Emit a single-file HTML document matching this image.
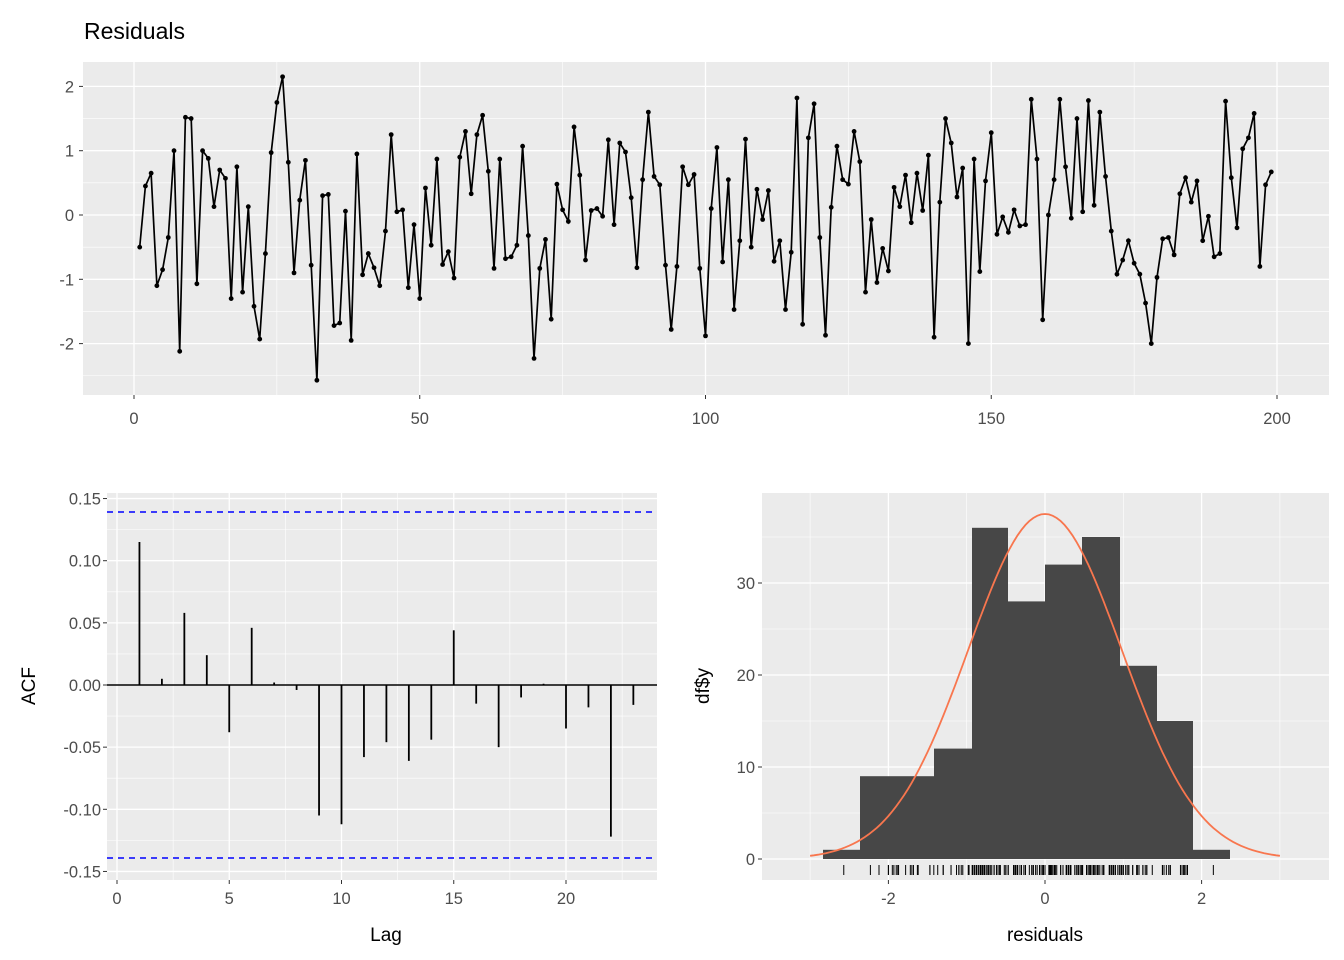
<!DOCTYPE html>
<html><head><meta charset="utf-8"><style>
body{margin:0;background:#fff}
svg{display:block;font-family:"Liberation Sans",sans-serif}
</style></head><body>
<svg id="s" width="1344" height="960" xmlns="http://www.w3.org/2000/svg">
<rect width="1344" height="960" fill="#fff"/>
<text x="84" y="39" font-size="23" fill="#000">Residuals</text>
<g id="g"></g>
</svg>
<script>
const NS="http://www.w3.org/2000/svg";const g=document.getElementById('g');
function el(t,a,txt){const e=document.createElementNS(NS,t);for(const k in a)e.setAttribute(k,a[k]);if(txt!==undefined)e.textContent=txt;g.appendChild(e);return e;}
const tc="#4d4d4d",fs=16.5;
const X0=83,X1=1329,Y0=62,Y1=395;
el('rect',{x:X0,y:Y0,width:X1-X0,height:Y1-Y0,fill:'#ebebeb'});
const tx=v=>134+v*5.715, ty=v=>215-v*64.3;
for(let v=25;v<=175;v+=50)el('line',{x1:tx(v),x2:tx(v),y1:Y0,y2:Y1,stroke:'#fff','stroke-width':0.6});
for(let v=-2.5;v<=2;v+=1)el('line',{x1:X0,x2:X1,y1:ty(v),y2:ty(v),stroke:'#fff','stroke-width':0.6});
for(let v=0;v<=200;v+=50){el('line',{x1:tx(v),x2:tx(v),y1:Y0,y2:Y1,stroke:'#fff','stroke-width':1.3});el('text',{x:tx(v),y:424,'font-size':fs,fill:tc,'text-anchor':'middle'},v);el('line',{x1:tx(v),x2:tx(v),y1:Y1,y2:Y1+4,stroke:'#333'});}
for(let v=-2;v<=2;v++){el('line',{x1:X0,x2:X1,y1:ty(v),y2:ty(v),stroke:'#fff','stroke-width':1.3});el('text',{x:74,y:ty(v)+6,'font-size':fs,fill:tc,'text-anchor':'end'},v);el('line',{x1:X0-4,x2:X0,y1:ty(v),y2:ty(v),stroke:'#333'});}
const r=[-0.5,0.45,0.65,-1.1,-0.85,-0.35,1.0,-2.12,1.52,1.5,-1.07,1.0,0.88,0.13,0.7,0.57,-1.3,0.75,-1.2,0.13,-1.42,-1.93,-0.6,0.97,1.75,2.15,0.82,-0.9,0.23,0.85,-0.78,-2.57,0.3,0.32,-1.72,-1.68,0.06,-1.95,0.95,-0.93,-0.6,-0.82,-1.1,-0.25,1.25,0.05,0.08,-1.13,-0.15,-1.3,0.42,-0.47,0.87,-0.77,-0.57,-0.98,0.9,1.3,0.33,1.25,1.55,0.68,-0.83,0.87,-0.68,-0.65,-0.47,1.07,-0.32,-2.23,-0.83,-0.38,-1.62,0.48,0.08,-0.1,1.37,0.62,-0.7,0.07,0.1,-0.02,1.17,-0.15,1.12,0.98,0.27,-0.82,0.55,1.6,0.6,0.47,-0.78,-1.78,-0.8,0.75,0.47,0.63,-0.83,-1.88,0.1,1.05,-0.73,0.55,-1.47,-0.4,1.18,-0.5,0.4,-0.07,0.38,-0.72,-0.4,-1.47,-0.58,1.82,-1.7,1.2,1.73,-0.35,-1.87,0.12,1.07,0.55,0.48,1.3,0.83,-1.2,-0.07,-1.05,-0.52,-0.87,0.43,0.13,0.62,-0.12,0.65,0.07,0.93,-1.9,0.2,1.5,1.12,0.28,0.73,-2.0,0.87,-0.88,0.53,1.28,-0.3,-0.03,-0.27,0.08,-0.17,-0.15,1.8,0.87,-1.63,0.0,0.55,1.8,0.75,-0.05,1.5,0.05,1.78,0.15,1.6,0.6,-0.25,-0.92,-0.7,-0.4,-0.75,-0.92,-1.37,-2.0,-0.97,-0.37,-0.35,-0.62,0.33,0.58,0.2,0.53,-0.4,-0.02,-0.65,-0.6,1.77,0.58,-0.2,1.03,1.2,1.58,-0.8,0.47,0.67];
const n=r.length, sc=198/(n-1);
let d='';r.forEach((v,i)=>{const x=tx(1+i*sc),y=ty(v);d+=(i?'L':'M')+x.toFixed(1)+','+y.toFixed(1);});
el('path',{d:d,fill:'none',stroke:'#000','stroke-width':1.7});
r.forEach((v,i)=>el('circle',{cx:tx(1+i*sc),cy:ty(v),r:2.4,fill:'#000'}));
const A0=107,A1=657,B0=493,B1=880;
el('rect',{x:A0,y:B0,width:A1-A0,height:B1-B0,fill:'#ebebeb'});
const ax=v=>117+v*22.45, ay=v=>685-v*1243;
for(let v=2.5;v<=22.5;v+=5)el('line',{x1:ax(v),x2:ax(v),y1:B0,y2:B1,stroke:'#fff','stroke-width':0.6});
for(let v=-0.125;v<=0.13;v+=0.05)el('line',{x1:A0,x2:A1,y1:ay(v),y2:ay(v),stroke:'#fff','stroke-width':0.6});
for(let v=0;v<=20;v+=5){el('line',{x1:ax(v),x2:ax(v),y1:B0,y2:B1,stroke:'#fff','stroke-width':1.3});el('text',{x:ax(v),y:904,'font-size':fs,fill:tc,'text-anchor':'middle'},v);el('line',{x1:ax(v),x2:ax(v),y1:B1,y2:B1+4,stroke:'#333'});}
[-0.15,-0.10,-0.05,0,0.05,0.10,0.15].forEach(v=>{el('line',{x1:A0,x2:A1,y1:ay(v),y2:ay(v),stroke:'#fff','stroke-width':1.3});el('text',{x:101,y:ay(v)+6,'font-size':fs,fill:tc,'text-anchor':'end'},v.toFixed(2));el('line',{x1:A0-4,x2:A0,y1:ay(v),y2:ay(v),stroke:'#333'});});
el('line',{x1:A0,x2:A1,y1:ay(0),y2:ay(0),stroke:'#000','stroke-width':1.5});
const acf=[0.115,0.005,0.058,0.024,-0.038,0.046,0.002,-0.004,-0.105,-0.112,-0.058,-0.046,-0.061,-0.044,0.044,-0.015,-0.05,-0.01,0.001,-0.035,-0.018,-0.122,-0.016];
acf.forEach((v,i)=>el('line',{x1:ax(i+1),x2:ax(i+1),y1:ay(0),y2:ay(v),stroke:'#000','stroke-width':1.8}));
[512,858].forEach(y=>el('line',{x1:A0,x2:A1,y1:y,y2:y,stroke:'#0000ff','stroke-width':1.6,'stroke-dasharray':'6,5'}));
el('text',{x:386,y:941,'font-size':19,fill:'#000','text-anchor':'middle'},'Lag');
el('text',{x:0,y:0,'font-size':19,fill:'#000','text-anchor':'middle',transform:'translate(35,686) rotate(-90)'},'ACF');
const H0=762,H1=1329;
el('rect',{x:H0,y:B0,width:H1-H0,height:B1-B0,fill:'#ebebeb'});
const hx=v=>1045+v*78.3, hy=v=>859-v*9.2;
for(let v=-3;v<=3;v+=2)el('line',{x1:hx(v),x2:hx(v),y1:B0,y2:B1,stroke:'#fff','stroke-width':0.6});
for(let v=5;v<=35;v+=10)el('line',{x1:H0,x2:H1,y1:hy(v),y2:hy(v),stroke:'#fff','stroke-width':0.6});
for(let v=-2;v<=2;v+=2){el('line',{x1:hx(v),x2:hx(v),y1:B0,y2:B1,stroke:'#fff','stroke-width':1.3});el('text',{x:hx(v),y:904,'font-size':fs,fill:tc,'text-anchor':'middle'},v);el('line',{x1:hx(v),x2:hx(v),y1:B1,y2:B1+4,stroke:'#333'});}
for(let v=0;v<=30;v+=10){el('line',{x1:H0,x2:H1,y1:hy(v),y2:hy(v),stroke:'#fff','stroke-width':1.3});el('text',{x:755,y:hy(v)+6,'font-size':fs,fill:tc,'text-anchor':'end'},v);el('line',{x1:H0-4,x2:H0,y1:hy(v),y2:hy(v),stroke:'#333'});}
const bars=[[823,860,1],[860,934,9],[934,972,12],[972,1008,36],[1008,1045,28],[1045,1082,32],[1082,1120,35],[1120,1157,21],[1157,1193,15],[1193,1230,1]];
bars.forEach(b=>el('rect',{x:b[0],y:hy(b[2]),width:b[1]-b[0],height:hy(0)-hy(b[2]),fill:'#474747'}));
let c='';for(let v=-3;v<=3.001;v+=0.05){const y=37.5*Math.exp(-v*v/(2*0.98*0.98));c+=(c?'L':'M')+hx(v).toFixed(1)+','+hy(y).toFixed(1);}
el('path',{d:c,fill:'none',stroke:'#f8764e','stroke-width':1.8});
r.forEach(v=>el('line',{x1:hx(v),x2:hx(v),y1:865,y2:875,stroke:'#000','stroke-width':1}));
el('text',{x:1045,y:941,'font-size':19,fill:'#000','text-anchor':'middle'},'residuals');
el('text',{x:0,y:0,'font-size':19,fill:'#000','text-anchor':'middle',transform:'translate(709,686) rotate(-90)'},'df$y');
</script>
</body></html>
